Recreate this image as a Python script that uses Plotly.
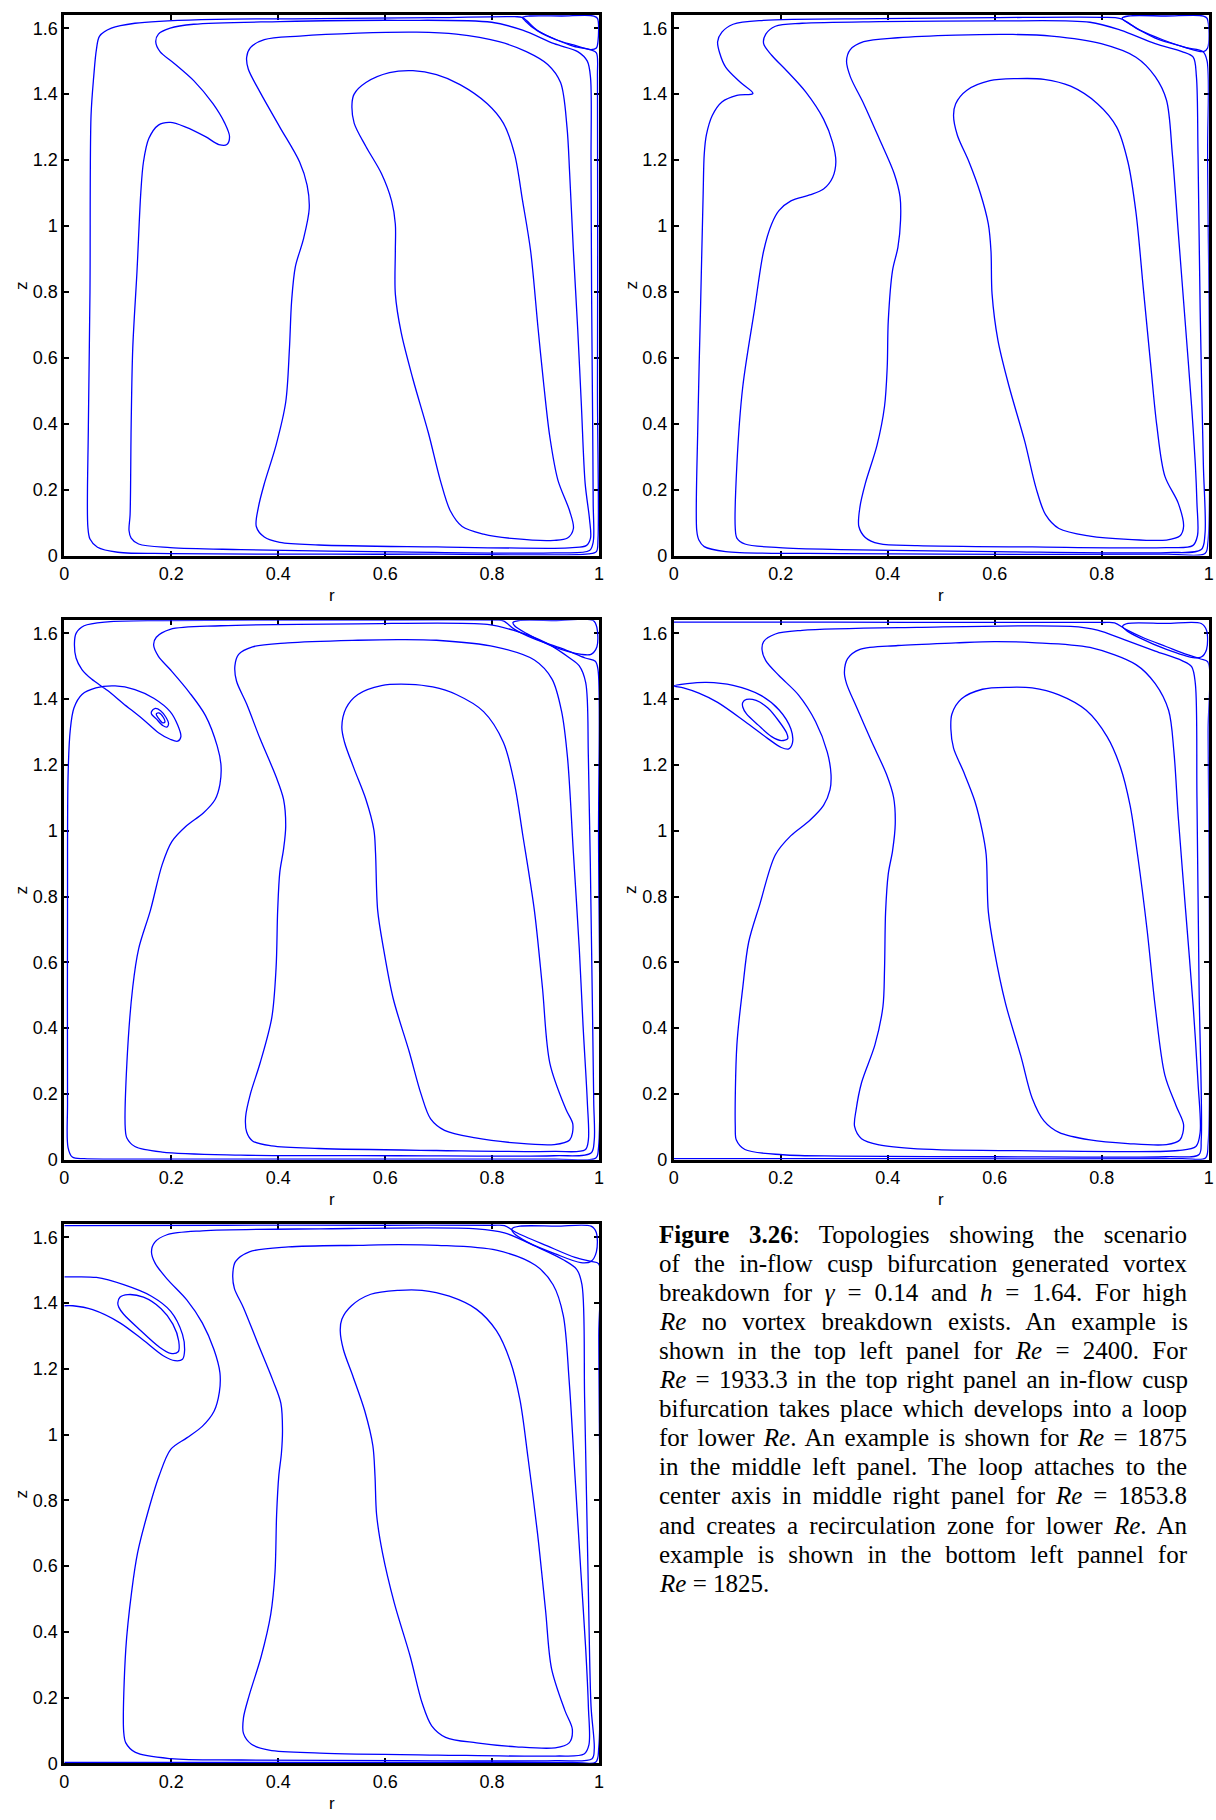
import plotly.graph_objects as go

# ---------------- tick labels ----------------
R_TICKS = [0, 0.2, 0.4, 0.6, 0.8, 1]
R_TICKTEXT = ["0", "0.2", "0.4", "0.6", "0.8", "1"]
Z_TICKS = [0, 0.2, 0.4, 0.6, 0.8, 1, 1.2, 1.4, 1.6]
Z_TICKTEXT = ["0", "0.2", "0.4", "0.6", "0.8", "1", "1.2", "1.4", "1.6"]
H = 1.64

# ---------------- Panel 1 : Re = 2400 ----------------
P1_A_R = [0.50, 0.20, 0.10, 0.062, 0.048, 0.044, 0.045, 0.048, 0.050, 0.055, 0.060, 0.066, 0.088, 0.132, 0.256, 0.476, 0.696, 0.842, 0.857, 0.885, 0.92, 0.953, 0.985, 0.995, 0.997, 0.997, 0.998, 0.995, 0.98, 0.70, 0.50]
P1_A_Z = [0.004, 0.006, 0.010, 0.025, 0.05, 0.088, 0.394, 0.80, 1.335, 1.453, 1.535, 1.576, 1.600, 1.615, 1.626, 1.629, 1.632, 1.635, 1.632, 1.593, 1.565, 1.545, 1.534, 1.525, 1.45, 0.50, 0.05, 0.012, 0.005, 0.004, 0.004]
P1_EDDY_R = [0.93, 0.99, 0.997, 0.998, 0.995, 0.985, 0.95, 0.92, 0.885, 0.862, 0.857, 0.87, 0.93]
P1_EDDY_Z = [1.637, 1.637, 1.63, 1.56, 1.54, 1.535, 1.55, 1.565, 1.592, 1.622, 1.633, 1.637, 1.637]
P1_B_R = [0.623, 0.330, 0.198, 0.139, 0.125, 0.121, 0.123, 0.125, 0.128, 0.136, 0.143, 0.148, 0.158, 0.176, 0.198, 0.227, 0.264, 0.289, 0.304, 0.309, 0.300, 0.278, 0.242, 0.205, 0.179, 0.171, 0.176, 0.198, 0.242, 0.403, 0.623, 0.799, 0.857, 0.916, 0.960, 0.978, 0.984, 0.985, 0.986, 0.988, 0.989, 0.989, 0.982, 0.916, 0.623]
P1_B_Z = [0.011, 0.018, 0.024, 0.035, 0.053, 0.076, 0.124, 0.394, 0.629, 0.865, 1.100, 1.194, 1.265, 1.306, 1.314, 1.300, 1.271, 1.247, 1.247, 1.271, 1.312, 1.371, 1.441, 1.494, 1.529, 1.559, 1.582, 1.600, 1.612, 1.620, 1.624, 1.618, 1.594, 1.553, 1.529, 1.50, 1.45, 1.20, 0.80, 0.40, 0.159, 0.041, 0.015, 0.008, 0.011]
P1_II_R = [0.549, 0.659, 0.733, 0.813, 0.864, 0.904, 0.928, 0.940, 0.945, 0.952, 0.960, 0.967, 0.974, 0.982, 0.984, 0.976, 0.950, 0.916, 0.696, 0.476, 0.403, 0.374, 0.359, 0.363, 0.374, 0.396, 0.414, 0.421, 0.425, 0.432, 0.447, 0.458, 0.454, 0.440, 0.403, 0.366, 0.344, 0.341, 0.348, 0.374, 0.440, 0.549]
P1_II_Z = [1.585, 1.588, 1.582, 1.559, 1.529, 1.49, 1.435, 1.30, 1.159, 0.924, 0.688, 0.453, 0.218, 0.112, 0.053, 0.030, 0.024, 0.022, 0.026, 0.032, 0.040, 0.056, 0.088, 0.147, 0.218, 0.335, 0.465, 0.629, 0.771, 0.876, 0.959, 1.053, 1.124, 1.194, 1.300, 1.406, 1.476, 1.512, 1.541, 1.565, 1.576, 1.585]
P1_I_R = [0.652, 0.696, 0.740, 0.791, 0.821, 0.842, 0.857, 0.872, 0.886, 0.897, 0.908, 0.923, 0.945, 0.952, 0.941, 0.916, 0.842, 0.784, 0.744, 0.722, 0.703, 0.681, 0.652, 0.630, 0.619, 0.619, 0.619, 0.612, 0.593, 0.564, 0.542, 0.538, 0.542, 0.564, 0.608, 0.652]
P1_I_Z = [1.471, 1.459, 1.429, 1.371, 1.312, 1.218, 1.076, 0.924, 0.688, 0.512, 0.359, 0.229, 0.135, 0.082, 0.053, 0.046, 0.051, 0.065, 0.088, 0.135, 0.229, 0.371, 0.535, 0.676, 0.794, 0.924, 1.006, 1.076, 1.159, 1.241, 1.312, 1.371, 1.400, 1.435, 1.465, 1.471]

# ---------------- Panel 2 : Re = 1933.3 ----------------
P2_A_R = [0.148, 0.118, 0.090, 0.072, 0.061, 0.057, 0.055, 0.050, 0.045, 0.043, 0.047, 0.057, 0.097, 0.312, 0.50, 0.921, 0.993, 0.9986, 0.998, 0.997, 0.989, 0.957, 0.914, 0.871, 0.835, 0.799, 0.599, 0.384, 0.168, 0.111, 0.090, 0.082, 0.086, 0.097, 0.125, 0.148]
P2_A_Z = [1.402, 1.396, 1.376, 1.335, 1.276, 1.218, 1.10, 0.747, 0.394, 0.076, 0.047, 0.027, 0.012, 0.006, 0.004, 0.004, 0.006, 0.041, 1.218, 1.50, 1.529, 1.541, 1.565, 1.594, 1.629, 1.633, 1.632, 1.629, 1.624, 1.612, 1.588, 1.559, 1.524, 1.482, 1.435, 1.402]
P2_EDDY_R = [0.92, 0.99, 0.997, 0.998, 0.99, 0.95, 0.90, 0.86, 0.838, 0.85, 0.92]
P2_EDDY_Z = [1.637, 1.637, 1.63, 1.54, 1.529, 1.545, 1.57, 1.605, 1.63, 1.637, 1.637]
P2_B_R = [0.599, 0.312, 0.197, 0.133, 0.118, 0.115, 0.118, 0.129, 0.151, 0.168, 0.183, 0.197, 0.219, 0.254, 0.280, 0.297, 0.303, 0.297, 0.280, 0.247, 0.211, 0.183, 0.168, 0.172, 0.190, 0.240, 0.384, 0.599, 0.778, 0.835, 0.900, 0.950, 0.971, 0.977, 0.980, 0.984, 0.990, 0.993, 0.986, 0.921, 0.599]
P2_B_Z = [0.012, 0.018, 0.024, 0.035, 0.053, 0.082, 0.276, 0.512, 0.747, 0.924, 1.006, 1.047, 1.076, 1.094, 1.112, 1.147, 1.194, 1.253, 1.324, 1.406, 1.471, 1.518, 1.553, 1.582, 1.606, 1.615, 1.620, 1.622, 1.618, 1.594, 1.553, 1.529, 1.512, 1.453, 1.218, 0.747, 0.276, 0.065, 0.018, 0.009, 0.012]
P2_II_R = [0.527, 0.634, 0.706, 0.799, 0.864, 0.900, 0.921, 0.932, 0.943, 0.957, 0.968, 0.975, 0.978, 0.979, 0.970, 0.921, 0.670, 0.455, 0.384, 0.358, 0.346, 0.348, 0.358, 0.380, 0.394, 0.399, 0.401, 0.409, 0.419, 0.424, 0.423, 0.412, 0.384, 0.355, 0.330, 0.323, 0.330, 0.355, 0.419, 0.527]
P2_II_Z = [1.579, 1.581, 1.576, 1.553, 1.512, 1.453, 1.382, 1.218, 0.982, 0.688, 0.453, 0.276, 0.159, 0.06, 0.030, 0.024, 0.026, 0.030, 0.036, 0.055, 0.088, 0.147, 0.218, 0.335, 0.453, 0.571, 0.712, 0.865, 0.935, 1.018, 1.088, 1.159, 1.265, 1.371, 1.453, 1.500, 1.535, 1.559, 1.571, 1.579]
P2_I_R = [0.642, 0.692, 0.742, 0.792, 0.828, 0.849, 0.864, 0.878, 0.892, 0.903, 0.918, 0.943, 0.953, 0.946, 0.921, 0.849, 0.778, 0.720, 0.695, 0.677, 0.656, 0.627, 0.606, 0.595, 0.593, 0.588, 0.573, 0.552, 0.530, 0.523, 0.527, 0.548, 0.591, 0.642]
P2_I_Z = [1.447, 1.445, 1.424, 1.371, 1.300, 1.194, 1.041, 0.806, 0.571, 0.394, 0.241, 0.159, 0.088, 0.059, 0.047, 0.049, 0.059, 0.082, 0.124, 0.206, 0.347, 0.512, 0.653, 0.794, 0.924, 1.006, 1.100, 1.194, 1.276, 1.335, 1.371, 1.412, 1.441, 1.447]

# ---------------- Panel 3 : Re = 1875 ----------------
P3_A_R = [0.476, 0.110, 0.037, 0.015, 0.007, 0.006, 0.006, 0.007, 0.011, 0.018, 0.033, 0.059, 0.095, 0.132, 0.168, 0.198, 0.212, 0.218, 0.212, 0.198, 0.176, 0.147, 0.110, 0.081, 0.051, 0.033, 0.022, 0.019, 0.022, 0.037, 0.081, 0.183, 0.476, 0.806, 0.821, 0.842, 0.879, 0.930, 0.974, 0.993, 0.998, 0.999, 0.999, 0.994, 0.916, 0.476]
P3_A_Z = [0.002, 0.002, 0.003, 0.008, 0.037, 0.177, 0.758, 1.164, 1.304, 1.373, 1.414, 1.434, 1.440, 1.429, 1.402, 1.362, 1.321, 1.286, 1.272, 1.278, 1.298, 1.339, 1.387, 1.426, 1.461, 1.490, 1.525, 1.571, 1.600, 1.623, 1.635, 1.639, 1.640, 1.640, 1.638, 1.612, 1.583, 1.554, 1.525, 1.515, 1.490, 0.99, 0.037, 0.005, 0.002, 0.002]
P3_EDDY_R = [0.92, 0.989, 0.996, 0.996, 0.985, 0.967, 0.916, 0.864, 0.842, 0.839, 0.850, 0.92]
P3_EDDY_Z = [1.639, 1.639, 1.617, 1.559, 1.536, 1.536, 1.559, 1.600, 1.623, 1.633, 1.639, 1.639]
P3_ISL1_R = [0.163, 0.170, 0.180, 0.190, 0.195, 0.192, 0.184, 0.172, 0.163, 0.163]
P3_ISL1_Z = [1.362, 1.372, 1.365, 1.345, 1.325, 1.315, 1.320, 1.340, 1.355, 1.362]
P3_ISL2_R = [0.172, 0.177, 0.185, 0.188, 0.184, 0.176, 0.172]
P3_ISL2_Z = [1.355, 1.358, 1.345, 1.330, 1.328, 1.342, 1.355]
P3_B_R = [0.623, 0.330, 0.183, 0.132, 0.117, 0.114, 0.117, 0.128, 0.139, 0.161, 0.183, 0.201, 0.227, 0.260, 0.282, 0.291, 0.293, 0.286, 0.264, 0.234, 0.198, 0.176, 0.167, 0.172, 0.198, 0.293, 0.549, 0.791, 0.842, 0.901, 0.945, 0.963, 0.975, 0.980, 0.986, 0.990, 0.991, 0.985, 0.916, 0.623]
P3_B_Z = [0.012, 0.014, 0.023, 0.040, 0.066, 0.095, 0.293, 0.525, 0.641, 0.758, 0.897, 0.967, 1.013, 1.054, 1.095, 1.141, 1.199, 1.257, 1.350, 1.420, 1.490, 1.530, 1.565, 1.588, 1.612, 1.623, 1.629, 1.627, 1.608, 1.571, 1.525, 1.501, 1.45, 1.222, 0.641, 0.177, 0.06, 0.02, 0.012, 0.012]
P3_II_R = [0.549, 0.623, 0.696, 0.806, 0.879, 0.912, 0.930, 0.941, 0.952, 0.963, 0.970, 0.978, 0.980, 0.974, 0.916, 0.696, 0.476, 0.388, 0.352, 0.341, 0.339, 0.348, 0.366, 0.388, 0.396, 0.399, 0.403, 0.410, 0.414, 0.410, 0.396, 0.366, 0.341, 0.322, 0.319, 0.326, 0.352, 0.418, 0.549]
P3_II_Z = [1.579, 1.581, 1.579, 1.559, 1.519, 1.461, 1.362, 1.222, 0.932, 0.641, 0.409, 0.177, 0.06, 0.030, 0.025, 0.028, 0.034, 0.042, 0.057, 0.084, 0.130, 0.200, 0.293, 0.432, 0.583, 0.758, 0.874, 0.944, 1.013, 1.095, 1.164, 1.280, 1.385, 1.455, 1.501, 1.536, 1.559, 1.571, 1.579]
P3_I_R = [0.645, 0.689, 0.733, 0.784, 0.821, 0.842, 0.857, 0.879, 0.894, 0.908, 0.938, 0.951, 0.945, 0.916, 0.842, 0.769, 0.711, 0.685, 0.667, 0.645, 0.615, 0.597, 0.586, 0.582, 0.579, 0.564, 0.542, 0.524, 0.519, 0.527, 0.549, 0.593, 0.645]
P3_I_Z = [1.445, 1.437, 1.414, 1.362, 1.269, 1.141, 0.990, 0.758, 0.525, 0.293, 0.153, 0.107, 0.060, 0.046, 0.051, 0.066, 0.089, 0.124, 0.200, 0.328, 0.490, 0.641, 0.758, 0.932, 1.002, 1.095, 1.188, 1.269, 1.315, 1.373, 1.414, 1.441, 1.445]

# ---------------- Panel 4 : Re = 1853.8 ----------------
P4_A_R = [0.0, 0.3, 0.6, 0.80, 0.824, 0.845, 0.88, 0.92, 0.96, 0.985, 0.998, 0.999, 0.999, 0.994, 0.95, 0.5, 0.0]
P4_A_Z = [1.634, 1.634, 1.633, 1.633, 1.632, 1.612, 1.585, 1.56, 1.535, 1.522, 1.514, 1.3, 0.05, 0.005, 0.003, 0.003, 0.003]
P4_LOOP_R = [0.0, 0.025, 0.061, 0.111, 0.161, 0.197, 0.219, 0.222, 0.215, 0.201, 0.176, 0.133, 0.082, 0.047, 0.018, 0.0]
P4_LOOP_Z = [1.440, 1.447, 1.451, 1.442, 1.413, 1.367, 1.309, 1.268, 1.249, 1.253, 1.280, 1.332, 1.390, 1.418, 1.434, 1.440]
P4_ISL_R = [0.129, 0.136, 0.154, 0.176, 0.197, 0.211, 0.213, 0.201, 0.183, 0.158, 0.136, 0.129, 0.129]
P4_ISL_Z = [1.390, 1.399, 1.396, 1.373, 1.332, 1.297, 1.280, 1.274, 1.286, 1.321, 1.355, 1.376, 1.390]
P4_EDDY_R = [0.92, 0.986, 0.996, 0.996, 0.986, 0.971, 0.921, 0.871, 0.846, 0.839, 0.849, 0.92]
P4_EDDY_Z = [1.630, 1.630, 1.609, 1.551, 1.528, 1.526, 1.551, 1.586, 1.609, 1.621, 1.630, 1.630]
P4_B_R = [0.599, 0.312, 0.204, 0.133, 0.117, 0.115, 0.118, 0.129, 0.140, 0.161, 0.190, 0.219, 0.254, 0.280, 0.292, 0.294, 0.287, 0.265, 0.233, 0.197, 0.172, 0.165, 0.168, 0.190, 0.240, 0.455, 0.742, 0.792, 0.842, 0.900, 0.950, 0.968, 0.975, 0.978, 0.982, 0.986, 0.982, 0.921, 0.599]
P4_B_Z = [0.009, 0.011, 0.015, 0.031, 0.060, 0.101, 0.349, 0.523, 0.661, 0.777, 0.927, 0.985, 1.031, 1.077, 1.124, 1.170, 1.239, 1.332, 1.413, 1.471, 1.517, 1.551, 1.575, 1.598, 1.609, 1.618, 1.621, 1.610, 1.581, 1.546, 1.517, 1.499, 1.447, 1.101, 0.523, 0.060, 0.016, 0.009, 0.009]
P4_II_R = [0.527, 0.599, 0.670, 0.778, 0.864, 0.900, 0.925, 0.935, 0.943, 0.957, 0.971, 0.980, 0.984, 0.976, 0.943, 0.670, 0.455, 0.384, 0.351, 0.338, 0.341, 0.351, 0.376, 0.391, 0.394, 0.396, 0.401, 0.409, 0.414, 0.411, 0.398, 0.369, 0.341, 0.323, 0.319, 0.325, 0.348, 0.419, 0.527]
P4_II_Z = [1.571, 1.575, 1.572, 1.557, 1.505, 1.447, 1.366, 1.239, 1.043, 0.754, 0.465, 0.234, 0.083, 0.040, 0.028, 0.027, 0.033, 0.045, 0.064, 0.101, 0.153, 0.234, 0.349, 0.465, 0.580, 0.754, 0.869, 0.939, 1.020, 1.101, 1.170, 1.274, 1.378, 1.447, 1.482, 1.523, 1.551, 1.563, 1.571]
P4_I_R = [0.627, 0.670, 0.720, 0.771, 0.810, 0.835, 0.853, 0.867, 0.885, 0.900, 0.918, 0.939, 0.953, 0.946, 0.921, 0.849, 0.778, 0.720, 0.692, 0.670, 0.649, 0.620, 0.599, 0.588, 0.584, 0.577, 0.563, 0.541, 0.523, 0.518, 0.520, 0.538, 0.577, 0.627]
P4_I_Z = [1.436, 1.434, 1.413, 1.366, 1.286, 1.193, 1.077, 0.927, 0.696, 0.465, 0.257, 0.164, 0.106, 0.060, 0.046, 0.049, 0.060, 0.083, 0.118, 0.187, 0.314, 0.476, 0.638, 0.754, 0.927, 0.997, 1.089, 1.182, 1.251, 1.309, 1.355, 1.401, 1.430, 1.436]

# ---------------- Panel 5 : Re = 1825 ----------------
P5_A_R = [0.0, 0.3, 0.6, 0.80, 0.823, 0.845, 0.903, 0.955, 0.985, 0.999, 0.9995, 0.9995, 0.994, 0.95, 0.5, 0.0]
P5_A_Z = [1.636, 1.637, 1.637, 1.637, 1.636, 1.615, 1.574, 1.539, 1.527, 1.52, 1.3, 0.05, 0.004, 0.003, 0.003, 0.003]
P5_BUB_R = [0.0, 0.016, 0.060, 0.111, 0.163, 0.199, 0.221, 0.225, 0.221, 0.207, 0.185, 0.148, 0.104, 0.053, 0.016, 0.0]
P5_BUB_Z = [1.480, 1.480, 1.478, 1.456, 1.421, 1.375, 1.305, 1.258, 1.229, 1.225, 1.240, 1.287, 1.340, 1.380, 1.392, 1.392]
P5_LOOP_R = [0.100, 0.104, 0.119, 0.148, 0.181, 0.203, 0.214, 0.213, 0.199, 0.177, 0.141, 0.111, 0.102, 0.100]
P5_LOOP_Z = [1.400, 1.418, 1.426, 1.418, 1.383, 1.336, 1.284, 1.252, 1.247, 1.267, 1.319, 1.366, 1.387, 1.400]
P5_EDDY_R = [0.92, 0.985, 0.995, 0.995, 0.985, 0.966, 0.918, 0.867, 0.841, 0.837, 0.852, 0.92]
P5_EDDY_Z = [1.634, 1.634, 1.614, 1.556, 1.527, 1.523, 1.550, 1.585, 1.612, 1.626, 1.634, 1.634]
P5_B_R = [0.625, 0.331, 0.199, 0.133, 0.115, 0.111, 0.115, 0.126, 0.137, 0.155, 0.177, 0.199, 0.229, 0.258, 0.280, 0.290, 0.291, 0.280, 0.258, 0.229, 0.192, 0.170, 0.163, 0.169, 0.192, 0.258, 0.478, 0.771, 0.823, 0.881, 0.933, 0.958, 0.968, 0.973, 0.980, 0.985, 0.991, 0.987, 0.918, 0.625]
P5_B_Z = [0.008, 0.010, 0.014, 0.033, 0.062, 0.097, 0.348, 0.523, 0.640, 0.756, 0.873, 0.955, 0.990, 1.025, 1.071, 1.130, 1.188, 1.258, 1.340, 1.410, 1.474, 1.521, 1.556, 1.585, 1.608, 1.620, 1.626, 1.626, 1.614, 1.573, 1.532, 1.503, 1.456, 1.106, 0.523, 0.173, 0.044, 0.014, 0.008, 0.008]
P5_II_R = [0.551, 0.625, 0.698, 0.808, 0.881, 0.914, 0.933, 0.944, 0.955, 0.966, 0.975, 0.980, 0.981, 0.972, 0.918, 0.698, 0.478, 0.383, 0.350, 0.335, 0.335, 0.346, 0.368, 0.386, 0.394, 0.397, 0.401, 0.406, 0.408, 0.405, 0.390, 0.361, 0.335, 0.318, 0.315, 0.320, 0.346, 0.419, 0.551]
P5_II_Z = [1.576, 1.578, 1.576, 1.561, 1.515, 1.456, 1.363, 1.165, 0.873, 0.581, 0.348, 0.173, 0.056, 0.028, 0.022, 0.025, 0.031, 0.040, 0.058, 0.091, 0.138, 0.208, 0.324, 0.453, 0.581, 0.756, 0.873, 0.943, 1.013, 1.095, 1.165, 1.281, 1.386, 1.445, 1.486, 1.526, 1.556, 1.571, 1.576]
P5_I_R = [0.669, 0.720, 0.771, 0.808, 0.834, 0.852, 0.867, 0.885, 0.900, 0.911, 0.936, 0.950, 0.944, 0.918, 0.845, 0.771, 0.713, 0.687, 0.669, 0.647, 0.617, 0.595, 0.584, 0.581, 0.577, 0.562, 0.540, 0.522, 0.516, 0.519, 0.537, 0.573, 0.625, 0.669]
P5_I_Z = [1.439, 1.421, 1.381, 1.316, 1.223, 1.106, 0.931, 0.698, 0.464, 0.289, 0.161, 0.103, 0.062, 0.047, 0.050, 0.062, 0.079, 0.114, 0.184, 0.324, 0.488, 0.640, 0.756, 0.873, 0.966, 1.071, 1.176, 1.258, 1.316, 1.351, 1.392, 1.427, 1.439, 1.439]

CAPTION_LINES = [
    "<b>Figure 3.26</b>: Topologies showing the scenario",
    "of the in-flow cusp bifurcation generated vortex",
    "breakdown for <i>γ</i> = 0.14 and <i>h</i> = 1.64. For high",
    "<i>Re</i> no vortex breakdown exists. An example is",
    "shown in the top left panel for <i>Re</i> = 2400. For",
    "<i>Re</i> = 1933.3 in the top right panel an in-flow cusp",
    "bifurcation takes place which develops into a loop",
    "for lower <i>Re</i>. An example is shown for <i>Re</i> = 1875",
    "in the middle left panel. The loop attaches to the",
    "center axis in middle right panel for <i>Re</i> = 1853.8",
    "and creates a recirculation zone for lower <i>Re</i>. An",
    "example is shown in the bottom left pannel for",
    "<i>Re</i> = 1825.",
]

PANELS = {
    1: [(P1_A_R, P1_A_Z), (P1_EDDY_R, P1_EDDY_Z), (P1_B_R, P1_B_Z), (P1_II_R, P1_II_Z), (P1_I_R, P1_I_Z)],
    2: [(P2_A_R, P2_A_Z), (P2_EDDY_R, P2_EDDY_Z), (P2_B_R, P2_B_Z), (P2_II_R, P2_II_Z), (P2_I_R, P2_I_Z)],
    3: [(P3_A_R, P3_A_Z), (P3_EDDY_R, P3_EDDY_Z), (P3_ISL1_R, P3_ISL1_Z), (P3_ISL2_R, P3_ISL2_Z),
        (P3_B_R, P3_B_Z), (P3_II_R, P3_II_Z), (P3_I_R, P3_I_Z)],
    4: [(P4_A_R, P4_A_Z), (P4_LOOP_R, P4_LOOP_Z), (P4_ISL_R, P4_ISL_Z), (P4_EDDY_R, P4_EDDY_Z),
        (P4_B_R, P4_B_Z), (P4_II_R, P4_II_Z), (P4_I_R, P4_I_Z)],
    5: [(P5_A_R, P5_A_Z), (P5_BUB_R, P5_BUB_Z), (P5_LOOP_R, P5_LOOP_Z), (P5_EDDY_R, P5_EDDY_Z),
        (P5_B_R, P5_B_Z), (P5_II_R, P5_II_Z), (P5_I_R, P5_I_Z)],
}

W, HT = 1216, 1820
# pixel boxes of the panels: (left, right, top, bottom)
BOXES = {
    1: (59.8, 599.0, 15.1, 558.6),
    2: (674.3, 1213.7, 15.1, 558.6),
    3: (59.8, 599.0, 623.6, 1166.1),
    4: (674.3, 1213.7, 623.6, 1166.1),
    5: (59.8, 599.0, 1231.0, 1773.0),
}

BLUE = "#0000FF"
fig = go.Figure()
layout = dict(width=W, height=HT, margin=dict(l=0, r=0, t=0, b=0),
              paper_bgcolor="white", plot_bgcolor="white", showlegend=False)
annotations = []
SANS = "Liberation Sans, Arial, sans-serif"
tickfont = dict(family=SANS, size=18, color="black")

for p, curves in PANELS.items():
    suffix = "" if p == 1 else str(p)
    for r, z in curves:
        fig.add_trace(go.Scatter(x=r, y=z, mode="lines", xaxis="x" + suffix, yaxis="y" + suffix,
                                 line=dict(color=BLUE, width=1.3, shape="spline", smoothing=0.9),
                                 hoverinfo="skip", showlegend=False))
    l, rr, t, b = BOXES[p]
    common = dict(showgrid=False, zeroline=False, showline=True, linecolor="black", linewidth=2.7,
                  mirror="ticks", ticks="inside", ticklen=5, tickwidth=1.8, tickcolor="black",
                  tickfont=tickfont, layer="below traces", fixedrange=True)
    layout["xaxis" + suffix] = dict(domain=[l / W, rr / W], range=[0, 1], tickvals=R_TICKS,
                                    ticktext=R_TICKTEXT, anchor="y" + suffix, **common)
    layout["yaxis" + suffix] = dict(domain=[1 - b / HT, 1 - t / HT], range=[0, H], tickvals=Z_TICKS,
                                    ticktext=Z_TICKTEXT, anchor="x" + suffix, **common)
    # axis titles
    annotations.append(dict(text="r", x=(l + rr) / 2 / W, y=1 - (b + 40) / HT, xref="paper", yref="paper",
                            showarrow=False, xanchor="center", yanchor="middle",
                            font=dict(family=SANS, size=17, color="black")))
    annotations.append(dict(text="z", x=(l - 43) / W, y=1 - (t + b) / 2 / HT, xref="paper", yref="paper",
                            showarrow=False, xanchor="center", yanchor="middle", textangle=-90,
                            font=dict(family=SANS, size=17, color="black")))

CAP_LEFT, CAP_TOP, CAP_STEP = 657.0, 1241.0, 29.25
for i, line in enumerate(CAPTION_LINES):
    annotations.append(dict(text=line, x=CAP_LEFT / W, y=1 - (CAP_TOP + i * CAP_STEP) / HT,
                            xref="paper", yref="paper", showarrow=False, xanchor="left", yanchor="middle",
                            align="left",
                            font=dict(family="Liberation Serif, Times New Roman, serif", size=25, color="black")))

layout["annotations"] = annotations
fig.update_layout(**layout)

post = """
document.body.style.margin='0';
try {
  var gd = document.getElementById('{plot_id}');
  var ts = gd.querySelectorAll('g.annotation text.annotation-text');
  var target = 528.0;
  for (var i = 0; i < ts.length; i++) {
    var t = ts[i];
    var s = t.textContent;
    if (s.length < 30) continue;
    var n = (s.match(/ /g) || []).length;
    if (n === 0) continue;
    var b0 = t.getBBox();
    var w = t.getComputedTextLength();
    t.style.wordSpacing = ((target - w) / n) + 'px';
    var b1 = t.getBBox();
    var dx = b0.x - b1.x;
    if (Math.abs(dx) > 0.01) {
      var x0 = parseFloat(t.getAttribute('x') || '0');
      t.setAttribute('x', x0 + dx);
    }
  }
} catch (e) {}
"""
fig.write_html("out.html", post_script=post, config={"displayModeBar": False})
